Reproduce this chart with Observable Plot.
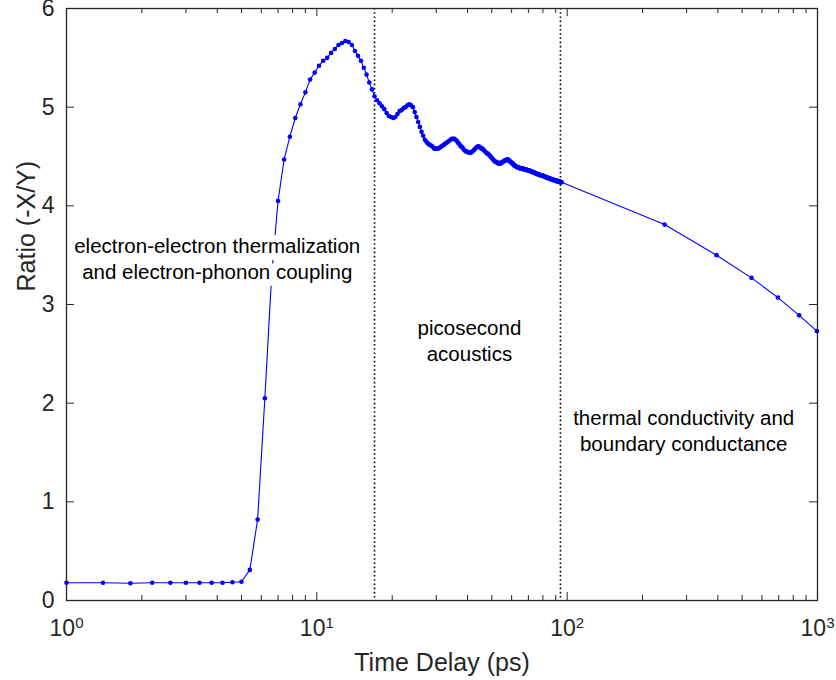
<!DOCTYPE html>
<html>
<head>
<meta charset="utf-8">
<script src="https://cdn.jsdelivr.net/npm/d3@7"></script>
<script src="https://cdn.jsdelivr.net/npm/@observablehq/plot@0.6"></script>
<style>
  body { margin: 0; background: #ffffff; }
  #chart svg { font-family: "Liberation Sans", Arial, Helvetica, sans-serif; display: block; }
</style>
</head>
<body>
<div id="chart"></div>
<script>
// ---- data ----
// uniformly sampled part of the scan: first delay and spacing, in ps
const sampleStart = 1.0;
const sampleStep = 0.4;
// ratio -X/Y at each sampled delay (1.0, 1.4, 1.8, ... 95.0 ps)
const ratioSampled = [
  0.18, 0.18, 0.175, 0.18, 0.18, 0.18, 0.18, 0.18, 0.18, 0.185,
  0.19, 0.31, 0.82, 2.05, 3.30, 4.05, 4.47, 4.70, 4.89, 5.03,
  5.15, 5.28, 5.35, 5.42, 5.47, 5.50, 5.55, 5.59, 5.63, 5.65,
  5.67, 5.66, 5.63, 5.57, 5.52, 5.47, 5.40, 5.33, 5.25, 5.18,
  5.11, 5.07, 5.04, 5.01, 4.98, 4.94, 4.91,
  4.90, 4.89, 4.90, 4.93, 4.96, 4.97, 4.99, 5.00, 5.02, 5.03,
  5.02, 5.00, 4.95, 4.90, 4.85, 4.80, 4.75, 4.71, 4.67, 4.65,
  4.63, 4.62, 4.61, 4.60, 4.58, 4.58, 4.58, 4.58, 4.59, 4.60,
  4.61, 4.62, 4.63, 4.64, 4.65, 4.66, 4.67, 4.68, 4.68, 4.68,
  4.67, 4.66, 4.64, 4.63, 4.61, 4.60, 4.59, 4.57, 4.56, 4.55,
  4.55, 4.54, 4.54, 4.54, 4.54, 4.55, 4.56, 4.57, 4.58, 4.59,
  4.60, 4.60, 4.60, 4.59, 4.58, 4.58, 4.57, 4.56, 4.55, 4.54,
  4.53, 4.53, 4.52, 4.51, 4.50, 4.49, 4.48, 4.47, 4.46, 4.45,
  4.45, 4.44, 4.44, 4.43, 4.43, 4.43, 4.43, 4.44, 4.44, 4.45,
  4.45, 4.46, 4.46, 4.46, 4.47, 4.47, 4.47, 4.46, 4.45, 4.45,
  4.44, 4.43, 4.43, 4.42, 4.41, 4.41, 4.40, 4.40, 4.39, 4.39,
  4.39, 4.39, 4.38, 4.38, 4.38, 4.38, 4.38, 4.38, 4.37, 4.37,
  4.37, 4.37, 4.37, 4.36, 4.36, 4.36, 4.36, 4.36, 4.35, 4.35,
  4.35, 4.35, 4.34, 4.34, 4.34, 4.34, 4.33, 4.33, 4.33, 4.33,
  4.32, 4.32, 4.32, 4.32, 4.32, 4.31, 4.31, 4.31, 4.31, 4.31,
  4.31, 4.30, 4.30, 4.30, 4.30, 4.29, 4.29, 4.29, 4.29, 4.29,
  4.28, 4.28, 4.28, 4.28, 4.28, 4.27, 4.27, 4.27, 4.27, 4.27,
  4.27, 4.26, 4.26, 4.26, 4.26, 4.26, 4.26, 4.25, 4.25, 4.25,
  4.25, 4.25, 4.25, 4.25, 4.24, 4.24, 4.24, 4.24, 4.24
];
// sparse long-delay points
const tailTime = [245, 395, 545, 695, 845, 995];
const tailRatio = [3.81, 3.50, 3.27, 3.07, 2.89, 2.73];
// boundaries between regimes (ps)
const regionBounds = [17, 94];
// axis ticks
const xTicks = [1, 10, 100, 1000];
const xMinorTicks = [2, 3, 4, 5, 6, 7, 8, 9, 20, 30, 40, 50, 60, 70, 80, 90, 200, 300, 400, 500, 600, 700, 800, 900];
const yTicks = [0, 1, 2, 3, 4, 5, 6];
// annotations
const annotationText = [
  "electron-electron thermalization\nand electron-phonon coupling",
  "picosecond\nacoustics",
  "thermal conductivity and\nboundary conductance"
];
const annotationTime = [4.0, 40.7, 292];
const annotationRatio = [3.47, 2.645, 1.735];

// ---- build table ----
const data = ratioSampled.map((r, i) => ({t: +(sampleStart + i * sampleStep).toFixed(1), r}))
  .concat(tailTime.map((t, i) => ({t, r: tailRatio[i]})));

const W = 836, H = 680, mL = 66, mR = 19, mT = 8, mB = 80;
const fw = W - mL - mR, fh = H - mT - mB;
const ink = "#262626";
const blue = "#0000ff";

const chart = Plot.plot({
  width: W, height: H,
  marginLeft: mL, marginRight: mR, marginTop: mT, marginBottom: mB,
  style: {fontFamily: '"Liberation Sans", Arial, sans-serif', fontSize: "20px", color: ink, background: "#ffffff", overflow: "visible"},
  x: {type: "log", domain: [1, 1000]},
  y: {domain: [0, 6]},
  marks: [
    Plot.ruleX(regionBounds, {x: d => d, stroke: "#000000", strokeWidth: 1.6, strokeDasharray: "1.6,2.6"}),
    Plot.line(data, {x: "t", y: "r", stroke: blue, strokeWidth: 1.1}),
    Plot.dot(data, {x: "t", y: "r", r: 2.3, fill: blue, stroke: "none"}),
    Plot.text(annotationText, {
      x: annotationTime, y: annotationRatio, text: d => d,
      fontSize: 20.5, fill: "#000000", stroke: "#ffffff", strokeWidth: 14,
      lineHeight: 1.27, textAnchor: "middle", lineAnchor: "middle"
    }),
    // inward ticks on all four sides
    Plot.tickX(xTicks, {x: d => d, insetTop: fh - 8, stroke: ink}),
    Plot.tickX(xMinorTicks, {x: d => d, insetTop: fh - 5, stroke: ink}),
    Plot.tickX(xTicks, {x: d => d, insetBottom: fh - 8, stroke: ink}),
    Plot.tickX(xMinorTicks, {x: d => d, insetBottom: fh - 5, stroke: ink}),
    Plot.tickY(yTicks, {y: d => d, insetRight: fw - 8, stroke: ink}),
    Plot.tickY(yTicks, {y: d => d, insetLeft: fw - 8, stroke: ink}),
    Plot.frame({stroke: ink, strokeWidth: 1.3}),
    Plot.axisY({ticks: yTicks, tickSize: 0, tickPadding: 12, fontSize: 23, label: null, tickFormat: d => String(d)}),
    Plot.axisX({ticks: xTicks, tickSize: 0, tickPadding: 19, fontSize: 23, label: null, tickFormat: d => String(Math.round(Math.log10(d)))}),
    Plot.text(["Time Delay (ps)"], {frameAnchor: "bottom", dy: 62, fontSize: 25, fill: ink, lineAnchor: "middle"}),
    Plot.text(["Ratio (-X/Y)"], {frameAnchor: "left", dx: -40, dy: -13, rotate: -90, fontSize: 25, fill: ink, lineAnchor: "middle"})
  ]
});

// render x tick labels as 10 with a superscript exponent
chart.querySelectorAll('[aria-label="x-axis tick label"] text').forEach(el => {
  const exp = el.textContent;
  el.textContent = "";
  const base = document.createElementNS("http://www.w3.org/2000/svg", "tspan");
  base.textContent = "10";
  const sup = document.createElementNS("http://www.w3.org/2000/svg", "tspan");
  sup.textContent = exp;
  sup.setAttribute("dy", "-0.5em");
  sup.setAttribute("font-size", "15");
  el.appendChild(base);
  el.appendChild(sup);
});

document.getElementById("chart").appendChild(chart);
</script>
</body>
</html>
